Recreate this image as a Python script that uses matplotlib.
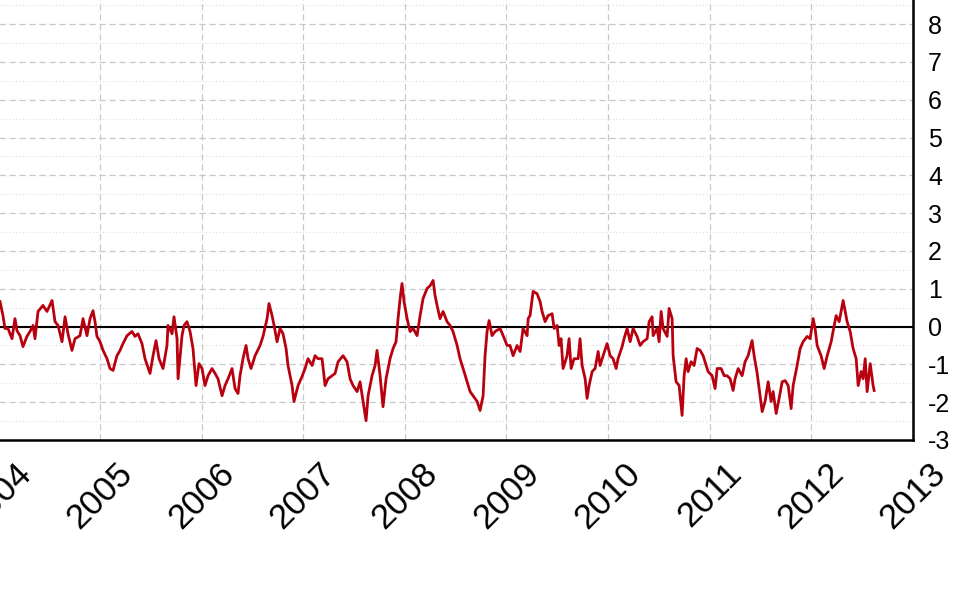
import numpy as np
import matplotlib
matplotlib.use('Agg')
import matplotlib.pyplot as plt
from matplotlib.ticker import MultipleLocator, FormatStrFormatter


# decimal year of each reading
years = [2004.016, 2004.045, 2004.065, 2004.094, 2004.134, 2004.163, 2004.183, 2004.213, 2004.242, 2004.281,
	2004.311, 2004.341, 2004.360, 2004.390, 2004.439, 2004.478, 2004.528, 2004.557, 2004.587, 2004.626,
	2004.656, 2004.685, 2004.724, 2004.754, 2004.803, 2004.833, 2004.872, 2004.902, 2004.931, 2004.951,
	2004.970, 2005.000, 2005.030, 2005.069, 2005.098, 2005.128, 2005.167, 2005.197, 2005.226, 2005.266,
	2005.315, 2005.344, 2005.374, 2005.413, 2005.443, 2005.492, 2005.522, 2005.551, 2005.581, 2005.620,
	2005.659, 2005.669, 2005.709, 2005.728, 2005.758, 2005.768, 2005.807, 2005.827, 2005.856, 2005.886,
	2005.915, 2005.945, 2005.974, 2006.004, 2006.033, 2006.063, 2006.102, 2006.132, 2006.161, 2006.201,
	2006.230, 2006.260, 2006.299, 2006.329, 2006.358, 2006.378, 2006.407, 2006.437, 2006.457, 2006.486,
	2006.526, 2006.575, 2006.604, 2006.644, 2006.663, 2006.693, 2006.713, 2006.742, 2006.772, 2006.801,
	2006.831, 2006.850, 2006.890, 2006.909, 2006.949, 2006.988, 2007.018, 2007.047, 2007.087, 2007.116,
	2007.146, 2007.185, 2007.215, 2007.244, 2007.283, 2007.313, 2007.343, 2007.392, 2007.431, 2007.461,
	2007.490, 2007.530, 2007.559, 2007.589, 2007.618, 2007.638, 2007.677, 2007.707, 2007.726, 2007.756,
	2007.785, 2007.815, 2007.854, 2007.884, 2007.913, 2007.933, 2007.953, 2007.972, 2007.992, 2008.022,
	2008.051, 2008.081, 2008.120, 2008.150, 2008.179, 2008.219, 2008.248, 2008.278, 2008.297, 2008.317,
	2008.346, 2008.376, 2008.415, 2008.445, 2008.474, 2008.514, 2008.543, 2008.573, 2008.612, 2008.642,
	2008.671, 2008.711, 2008.740, 2008.770, 2008.789, 2008.809, 2008.829, 2008.858, 2008.888, 2008.937,
	2008.967, 2009.006, 2009.035, 2009.065, 2009.104, 2009.134, 2009.163, 2009.203, 2009.213, 2009.232,
	2009.262, 2009.301, 2009.331, 2009.350, 2009.380, 2009.409, 2009.449, 2009.469, 2009.498, 2009.518,
	2009.537, 2009.557, 2009.596, 2009.616, 2009.636, 2009.665, 2009.705, 2009.724, 2009.744, 2009.774,
	2009.793, 2009.813, 2009.843, 2009.872, 2009.902, 2009.921, 2009.951, 2009.990, 2010.020, 2010.049,
	2010.079, 2010.098, 2010.138, 2010.157, 2010.187, 2010.217, 2010.246, 2010.285, 2010.315, 2010.344,
	2010.384, 2010.404, 2010.433, 2010.443, 2010.482, 2010.502, 2010.522, 2010.541, 2010.581, 2010.600,
	2010.630, 2010.640, 2010.669, 2010.699, 2010.728, 2010.748, 2010.768, 2010.787, 2010.817, 2010.846,
	2010.876, 2010.906, 2010.935, 2010.965, 2010.984, 2011.024, 2011.053, 2011.073, 2011.112, 2011.142,
	2011.171, 2011.201, 2011.230, 2011.250, 2011.280, 2011.319, 2011.348, 2011.378, 2011.417, 2011.437,
	2011.467, 2011.496, 2011.516, 2011.545, 2011.575, 2011.604, 2011.624, 2011.654, 2011.683, 2011.713,
	2011.742, 2011.772, 2011.801, 2011.821, 2011.860, 2011.890, 2011.919, 2011.959, 2011.988, 2012.018,
	2012.037, 2012.057, 2012.096, 2012.126, 2012.156, 2012.195, 2012.215, 2012.244, 2012.274, 2012.313,
	2012.333, 2012.352, 2012.382, 2012.411, 2012.441, 2012.461, 2012.490, 2012.510, 2012.530, 2012.549,
	2012.579, 2012.608, 2012.618]

values = [0.66, 0.29, -0.05, -0.05, -0.32, 0.21, -0.11, -0.24, -0.53, -0.26,
	-0.13, 0.03, -0.32, 0.40, 0.56, 0.40, 0.69, 0.13, 0.03, -0.40,
	0.26, -0.19, -0.63, -0.32, -0.24, 0.21, -0.24, 0.21, 0.42, 0.13,
	-0.26, -0.40, -0.63, -0.85, -1.11, -1.16, -0.77, -0.63, -0.45, -0.24,
	-0.13, -0.26, -0.19, -0.45, -0.85, -1.24, -0.77, -0.37, -0.85, -1.11,
	-0.50, 0.03, -0.19, 0.26, -0.32, -1.38, -0.24, 0.03, 0.13, -0.13,
	-0.58, -1.56, -0.98, -1.11, -1.56, -1.30, -1.11, -1.24, -1.38, -1.83,
	-1.56, -1.38, -1.11, -1.64, -1.77, -1.30, -0.85, -0.50, -0.85, -1.11,
	-0.77, -0.50, -0.26, 0.21, 0.61, 0.29, 0.03, -0.40, -0.05, -0.19,
	-0.58, -1.03, -1.56, -1.98, -1.56, -1.32, -1.11, -0.85, -1.03, -0.77,
	-0.85, -0.85, -1.56, -1.38, -1.30, -1.24, -0.93, -0.77, -0.93, -1.38,
	-1.56, -1.72, -1.46, -1.98, -2.49, -1.83, -1.30, -1.03, -0.63, -1.30,
	-2.12, -1.38, -0.85, -0.58, -0.40, 0.21, 0.74, 1.14, 0.66, 0.21,
	-0.13, -0.05, -0.24, 0.29, 0.74, 1.01, 1.08, 1.22, 0.82, 0.56,
	0.21, 0.40, 0.13, 0.03, -0.13, -0.50, -0.85, -1.11, -1.46, -1.72,
	-1.83, -1.98, -2.22, -1.83, -0.77, -0.13, 0.16, -0.24, -0.13, -0.05,
	-0.24, -0.50, -0.50, -0.77, -0.50, -0.66, -0.05, -0.24, 0.21, 0.29,
	0.93, 0.87, 0.66, 0.40, 0.13, 0.29, 0.34, -0.05, 0.03, -0.50,
	-0.32, -1.11, -0.77, -0.32, -1.11, -0.85, -0.85, -0.32, -1.03, -1.38,
	-1.90, -1.56, -1.19, -1.11, -0.66, -1.03, -0.77, -0.45, -0.77, -0.85,
	-1.11, -0.85, -0.53, -0.32, -0.05, -0.40, -0.05, -0.26, -0.50, -0.40,
	-0.32, 0.13, 0.26, -0.24, -0.05, -0.40, 0.40, -0.05, -0.26, 0.48,
	0.21, -0.77, -1.46, -1.56, -2.35, -1.30, -0.85, -1.19, -0.93, -1.03,
	-0.58, -0.63, -0.77, -1.03, -1.19, -1.30, -1.64, -1.11, -1.11, -1.30,
	-1.30, -1.38, -1.69, -1.38, -1.11, -1.30, -0.93, -0.77, -0.37, -0.77,
	-1.24, -1.83, -2.25, -1.98, -1.46, -1.98, -1.72, -2.30, -1.90, -1.46,
	-1.43, -1.56, -2.17, -1.56, -1.03, -0.58, -0.40, -0.26, -0.32, 0.21,
	-0.05, -0.50, -0.77, -1.11, -0.77, -0.40, -0.11, 0.29, 0.13, 0.69,
	0.40, 0.13, -0.13, -0.58, -0.85, -1.56, -1.19, -1.38, -0.85, -1.72,
	-0.98, -1.56, -1.69]

year_ticks = list(range(2004, 2014))
y_ticks = list(range(-3, 9))

plt.rcParams['font.family'] = ['Liberation Sans', 'DejaVu Sans']
plt.rcParams['axes.unicode_minus'] = False

fig = plt.figure(figsize=(9.6, 5.94), dpi=100)
# the picture is a crop: the plot runs past the left and top edges
ax = fig.add_axes([-0.0546, 0.2593, 1.0056, 0.7636])

ax.plot(years, values, color='#b8000e', lw=2.0, zorder=3)
ax.axhline(0, color='black', lw=1.5, zorder=2)

ax.set_xlim(2003.5, 2013)
ax.set_ylim(-3, 9)

ax.set_xticks(year_ticks)
ax.set_xticklabels([str(y) for y in year_ticks], rotation=45, ha='center', fontsize=25)
ax.set_yticks(y_ticks)
ax.yaxis.set_major_formatter(FormatStrFormatter('%d'))
ax.yaxis.set_minor_locator(MultipleLocator(0.5))
ax.yaxis.tick_right()
ax.tick_params(axis='y', which='both', length=0, pad=11, labelsize=18)
ax.tick_params(axis='x', length=0, pad=12)

ax.grid(True, which='major', color='#c8c8c8', ls=(0, (5, 3)), lw=0.9)
ax.grid(True, which='minor', axis='y', color='#dddddd', ls=(0, (1, 2)), lw=0.8)

for side in ['left', 'top']:
	ax.spines[side].set_visible(False)
for side in ['bottom', 'right']:
	ax.spines[side].set_linewidth(1.8)
	ax.spines[side].set_color('black')

fig.savefig('out.png', dpi=100, facecolor='white')
